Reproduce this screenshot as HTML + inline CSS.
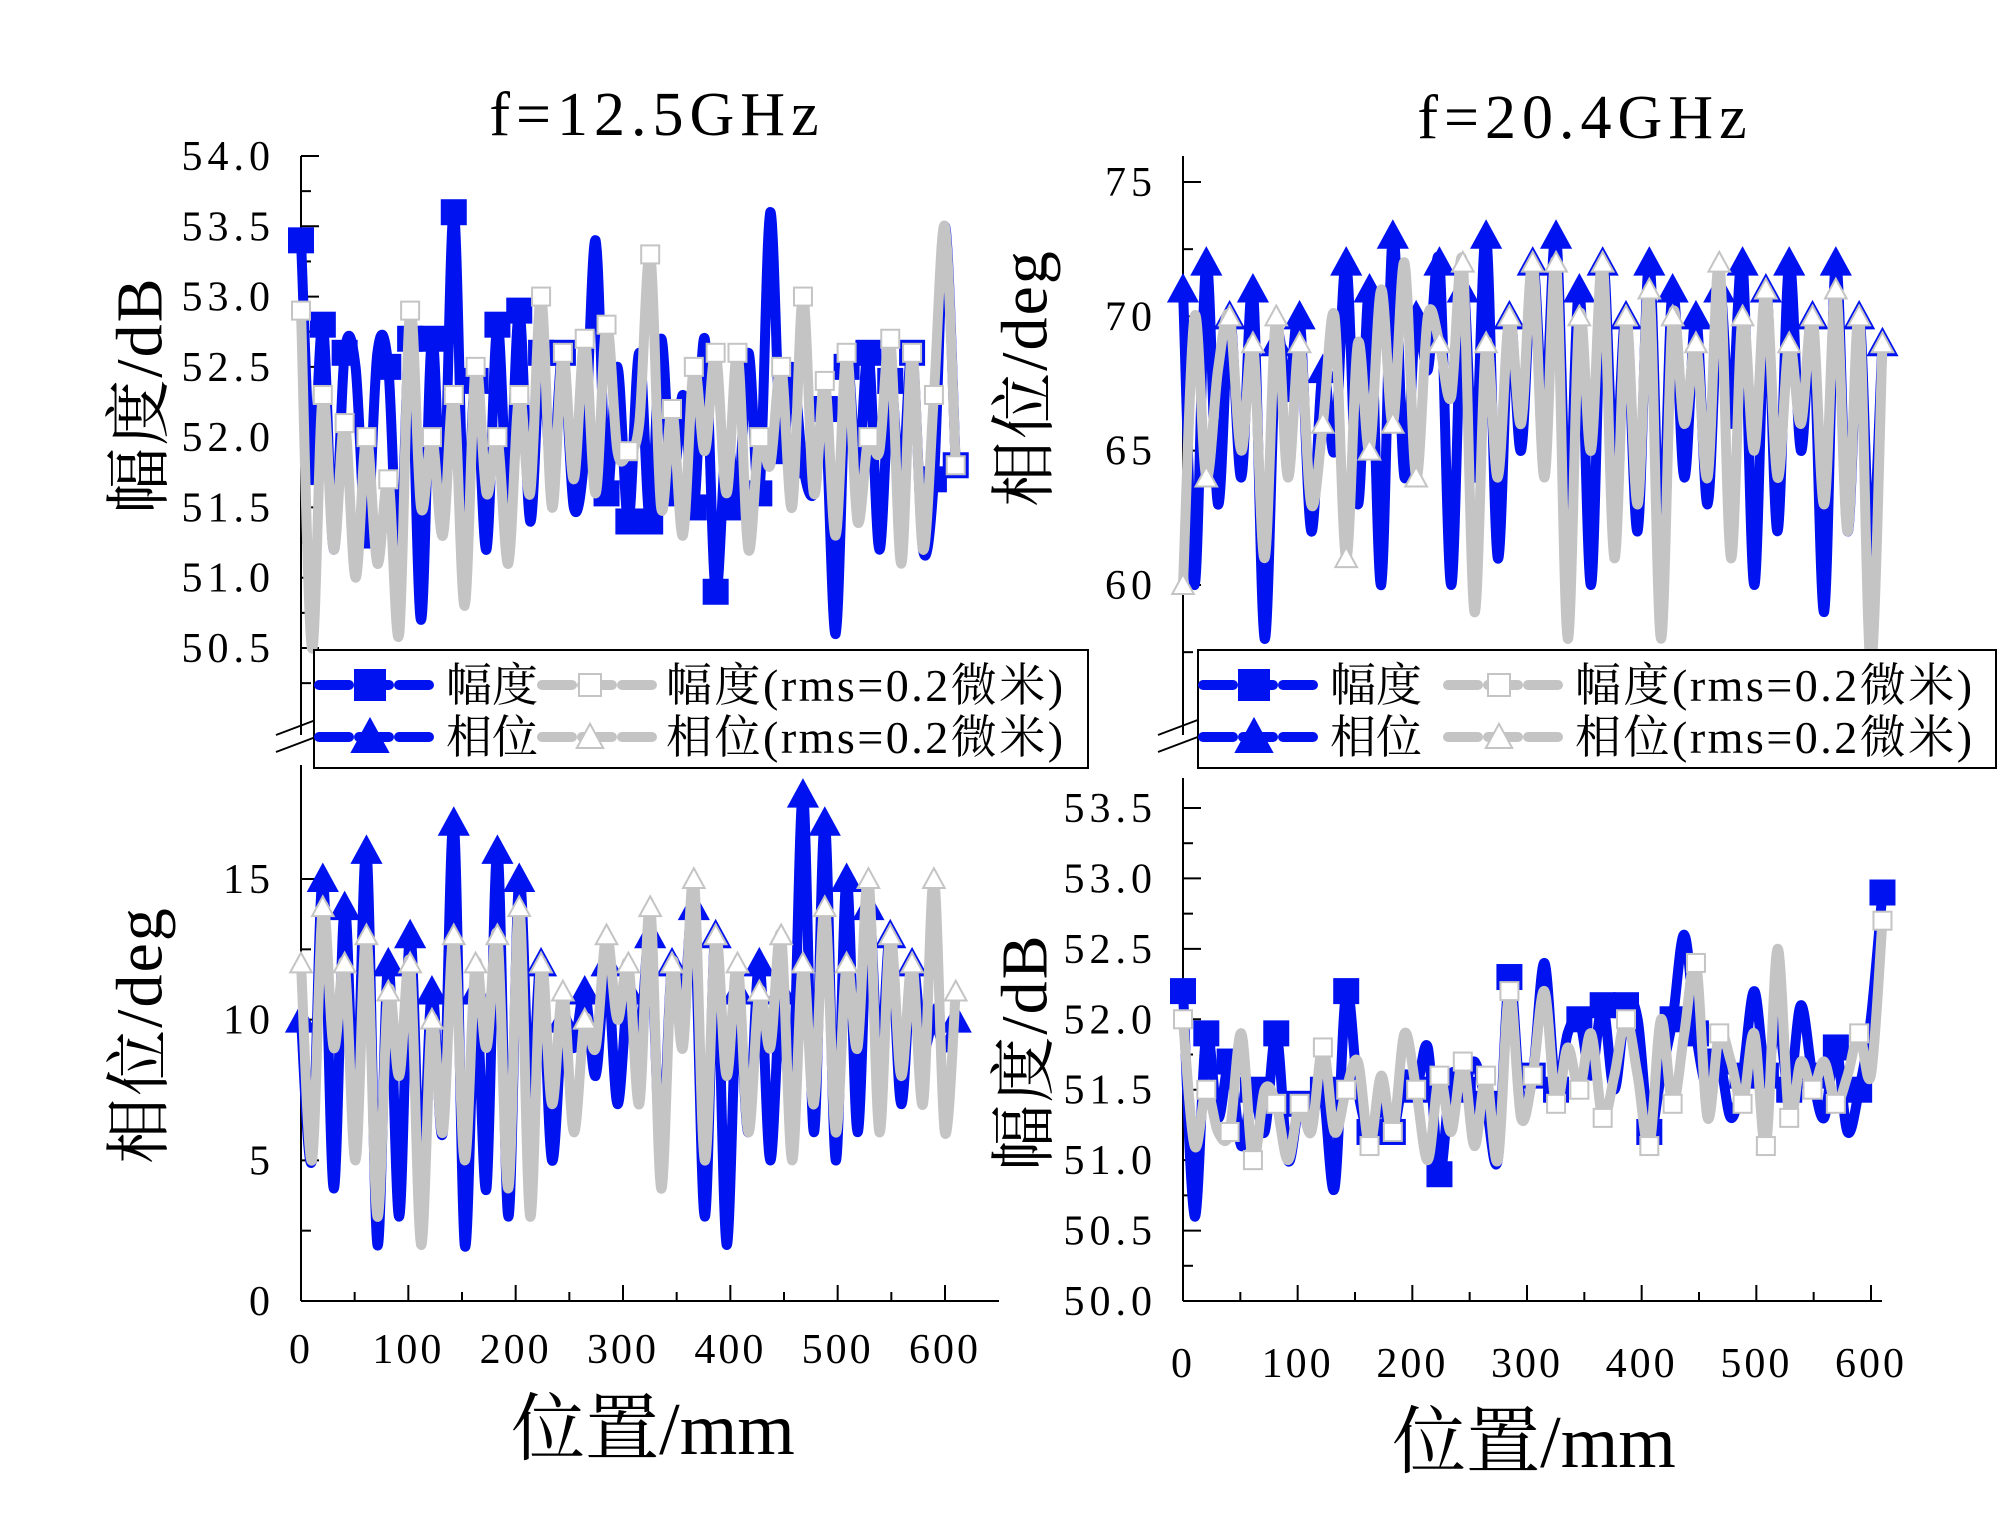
<!DOCTYPE html>
<html><head><meta charset="utf-8"><style>
html,body{margin:0;padding:0;background:#fff;}
svg{display:block;}
text{font-family:"Liberation Serif","Noto Serif CJK SC",serif;fill:#000;}
</style></head><body>
<svg id="chart" width="2000" height="1531" viewBox="0 0 2000 1531" xmlns="http://www.w3.org/2000/svg">
<g id="root"></g>
</svg>
<script>
const tlAmpBlue=[53.4,51.7,52.8,51.2,52.6,52.5,51.3,52.6,52.5,51.0,52.7,50.7,52.7,51.4,53.6,51.3,52.4,51.2,52.8,51.5,52.9,51.4,52.6,51.7,52.6,51.5,51.9,53.4,51.6,52.5,51.4,52.6,51.4,52.7,51.6,52.3,51.5,52.7,50.9,52.0,51.5,52.6,51.6,53.6,51.9,52.5,51.8,51.6,52.2,50.6,52.5,51.7,52.6,51.2,52.4,51.6,52.6,51.2,51.7,53.5,51.8];
const tlAmpGray=[52.9,50.5,52.3,51.2,52.1,51.0,52.0,51.1,51.7,50.6,52.9,51.5,52.0,51.3,52.3,50.8,52.5,51.6,52.0,51.1,52.3,51.6,53.0,51.5,52.6,51.7,52.7,51.6,52.8,51.9,51.9,52.1,53.3,51.5,52.2,51.3,52.5,51.9,52.6,51.6,52.6,51.2,52.0,51.8,52.5,51.5,53.0,51.6,52.4,51.3,52.6,51.4,52.0,51.9,52.7,51.1,52.6,51.2,52.3,53.5,51.8];
const blPhBlue=[10,5,15,4,14,6,16,2,12,3,13,4,11,6,17,2,11,4,16,3,15,7,12,5,10,9,11,8,12,7,11,9,13,5,12,10,14,3,13,2,11,6,12,5,11,7,18,6,17,5,15,6,14,8,13,7,12,9,10,9,10];
const blPhGray=[12,5,14,9,12,5,13,3,11,8,12,2,10,6,13,5,12,9,13,4,14,3,12,7,11,6,10,9,13,10,12,7,14,4,12,9,15,5,13,8,12,6,11,9,13,5,12,7,14,6,12,9,15,6,13,8,12,7,15,6,11];
const trPhBlue=[71,60,72,63,70,64,71,58,69,67,70,62,68,65,72,63,71,60,73,64,70,68,72,60,71,64,73,61,70,65,72,66,73,62,71,60,72,64,70,62,72,61,71,64,70,63,71,66,72,60,71,62,72,65,70,59,72,62,70,61,69];
const trPhGray=[60,70,64,68,70,65,69,61,70,64,69,63,66,70,61,69,65,71,66,72,64,70,69,67,72,59,69,64,70,66,72,64,72,58,70,65,72,61,70,63,71,58,70,66,69,64,72,61,70,65,71,64,69,66,70,63,71,62,70,57,69];
const brAmpBlue=[52.2,50.6,51.9,51.3,51.7,51.1,51.5,51.2,51.9,51.0,51.4,51.3,51.5,50.8,52.2,51.5,51.2,51.4,51.2,51.6,51.5,51.8,50.9,51.6,51.5,51.7,51.4,51.0,52.3,51.4,51.6,52.4,51.5,51.9,52.0,51.6,52.1,51.5,52.1,52.0,51.2,51.6,52.0,52.6,51.9,51.5,51.7,51.3,51.6,52.2,51.6,52.0,51.5,52.1,51.6,51.3,51.8,51.2,51.5,52.0,52.9];
const brAmpGray=[52.0,51.1,51.5,51.2,51.2,51.9,51.0,51.5,51.4,51.0,51.4,51.2,51.8,51.2,51.5,51.7,51.1,51.6,51.2,51.9,51.5,51.0,51.6,51.2,51.7,51.1,51.6,51.0,52.2,51.3,51.6,52.2,51.4,51.8,51.5,51.9,51.3,51.6,52.0,51.6,51.1,52.0,51.4,51.9,52.4,51.3,51.9,51.7,51.4,51.9,51.1,52.5,51.3,51.7,51.5,51.7,51.4,51.6,51.9,51.6,52.7];
const xTicks=[0,100,200,300,400,500,600];
const tlYTicks=[54.0,53.5,53.0,52.5,52.0,51.5,51.0,50.5];
const blYTicks=[15,10,5,0];
const trYTicks=[75,70,65,60];
const brYTicks=[53.5,53.0,52.5,52.0,51.5,51.0,50.5,50.0];

const NS="http://www.w3.org/2000/svg";
const root=document.getElementById('root');
function mk(tag,attrs,parent){const e=document.createElementNS(NS,tag);for(const k in attrs)e.setAttribute(k,attrs[k]);(parent||root).appendChild(e);return e;}
function lin(d0,d1,r0,r1){return v=>r0+(v-d0)*(r1-r0)/(d1-d0);}
function smooth(pts){let d=`M${pts[0][0]},${pts[0][1]}`;for(let i=0;i<pts.length-1;i++){const p0=pts[Math.max(0,i-1)],p1=pts[i],p2=pts[i+1],p3=pts[Math.min(pts.length-1,i+2)];const c1x=p1[0]+(p2[0]-p0[0])/6,c1y=p1[1]+(p2[1]-p0[1])/6,c2x=p2[0]-(p3[0]-p1[0])/6,c2y=p2[1]-(p3[1]-p1[1])/6;d+=` C${c1x},${c1y} ${c2x},${c2y} ${p2[0]},${p2[1]}`;}return d;}

function panel(cfg){
  const g=mk('g',{});
  
  
  const X=lin(0,600,cfg.x0,cfg.x600), Y=lin(cfg.yv0,cfg.yv1,cfg.yp0,cfg.yp1);
  const ya=mk('line',{x1:cfg.x0,y1:cfg.axTop,x2:cfg.x0,y2:cfg.axBot,stroke:'#000','stroke-width':2},g);
  
  
  cfg.yTicks.forEach((t,i)=>{
    const y=Y(t);
    mk('line',{x1:cfg.x0,y1:y,x2:cfg.x0+18,y2:y,stroke:'#000','stroke-width':2},g);
    const ym=Y(t-cfg.minor);
    if(ym<=cfg.axBot+1 && ym>=cfg.axTop) mk('line',{x1:cfg.x0,y1:ym,x2:cfg.x0+10,y2:ym,stroke:'#000','stroke-width':2},g);
    const tx=mk('text',{x:cfg.x0-26,y:y+14,'font-size':42,'text-anchor':'end','letter-spacing':5},g);
    tx.textContent=cfg.fmt(t);
    
    
  });
  if(cfg.xaxis){
    const xa=mk('line',{x1:cfg.x0,y1:cfg.axBot,x2:cfg.axRight,y2:cfg.axBot,stroke:'#000','stroke-width':2},g);
    
    
    xTicks.forEach(t=>{
      const x=X(t);
      mk('line',{x1:x,y1:cfg.axBot,x2:x,y2:cfg.axBot-16,stroke:'#000','stroke-width':2},g);
      if(t<600) mk('line',{x1:X(t+50),y1:cfg.axBot,x2:X(t+50),y2:cfg.axBot-9,stroke:'#000','stroke-width':2},g);
      const tx=mk('text',{x:x,y:cfg.axBot+cfg.xlabOff,'font-size':42,'text-anchor':'middle','letter-spacing':3},g);
      tx.textContent=t;
      
      
    });
  }
  const series=[[cfg.blue,'#0012f0',cfg.marker,true],[cfg.gray,'#c4c4c4',cfg.marker,false]];
  series.forEach(([arr,col,mkType,fill])=>{
    const pts=arr.map((v,i)=>[X(i*610/(arr.length-1)),Y(v)]);
    const p=mk('path',{d:smooth(pts),fill:'none',stroke:col,'stroke-width':10,'stroke-linejoin':'round'},g);
    
    
    pts.forEach((pt,i)=>{
      if(i%2!==0 && i!==pts.length-1)return;
      const m=marker(g,mkType,pt[0],pt[1],fill?24:18,fill?col:'#fff',fill?col:'#c4c4c4');
      
      
    });
  });
}
function marker(g,type,x,y,s,fillc,strk){
  if(type==='sq') return mk('rect',{x:x-s/2,y:y-s/2,width:s,height:s,fill:fillc,stroke:strk,'stroke-width':2},g);
  return mk('polygon',{points:`${x},${y-s*0.6} ${x+s*0.6},${y+s*0.5} ${x-s*0.6},${y+s*0.5}`,fill:fillc,stroke:strk,'stroke-width':2},g);
}
const f1=v=>v.toFixed(1), f0=v=>String(v);
panel({name:'top-left-amplitude',x0:301,x600:945,yv0:54,yv1:50.5,yp0:156,yp1:648,axTop:156,axBot:735,yTicks:tlYTicks,minor:0.25,fmt:f1,blue:tlAmpBlue,gray:tlAmpGray,marker:'sq',xaxis:false});
panel({name:'bottom-left-phase',x0:301,x600:945,yv0:0,yv1:15,yp0:1301,yp1:879,axTop:765,axBot:1301,axRight:999,yTicks:blYTicks,minor:2.5,fmt:f0,blue:blPhBlue,gray:blPhGray,marker:'tri',xaxis:true,xlabOff:62});
panel({name:'top-right-phase',x0:1183,x600:1871,yv0:75,yv1:60,yp0:182,yp1:585,axTop:156,axBot:735,yTicks:trYTicks,minor:2.5,fmt:f0,blue:trPhBlue,gray:trPhGray,marker:'tri',xaxis:false});
panel({name:'bottom-right-amplitude',x0:1183,x600:1871,yv0:50,yv1:53.5,yp0:1301,yp1:808,axTop:778,axBot:1301,axRight:1882,yTicks:brYTicks,minor:0.25,fmt:f1,blue:brAmpBlue,gray:brAmpGray,marker:'sq',xaxis:true,xlabOff:76});

[301,1183].forEach(x=>{
  const b=mk('g',{});
  
  
  mk('line',{x1:x-25,y1:735,x2:x+20,y2:718,stroke:'#000','stroke-width':2},b);
  mk('line',{x1:x-25,y1:752,x2:x+20,y2:735,stroke:'#000','stroke-width':2},b);
});

function legend(name,bx,bw,s1,m1,t1,s2,m2,t2){
  const g=mk('g',{});
  
  
  mk('rect',{x:bx,y:650,width:bw,height:118,fill:'#fff',stroke:'#000','stroke-width':2},g);
  [['sq',685,'幅度'],['tri',737,'相位']].forEach(([t,y,lab])=>{
    mk('line',{x1:s1,y1:y,x2:s1+115,y2:y,stroke:'#0012f0','stroke-width':10,'stroke-dasharray':'30 10','stroke-linecap':'round'},g);
    marker(g,t,m1,y,30,'#0012f0','#0012f0');
    const a=mk('text',{x:t1,y:y+16,'font-size':46},g);a.textContent=lab;
    
    
    mk('line',{x1:s2,y1:y,x2:s2+112,y2:y,stroke:'#c4c4c4','stroke-width':10,'stroke-dasharray':'30 10','stroke-linecap':'round'},g);
    marker(g,t,m2,y,22,'#fff','#c4c4c4');
    const b=mk('text',{x:t2,y:y+16,'font-size':46,'letter-spacing':2.5},g);b.textContent=lab+'(rms=0.2微米)';
    
    
  });
}
legend('legend-left',314,774,319,370,446,542,590,666);
legend('legend-right',1198,798,1203,1254,1330,1448,1499,1575);

const svg=document.getElementById('chart');
function t(txt,x,y,rot,size,name,ls){const e=document.createElementNS(NS,'text');e.setAttribute('x',x);e.setAttribute('y',y);e.setAttribute('font-size',size);e.setAttribute('text-anchor','middle');e.setAttribute('dominant-baseline','central');if(ls)e.setAttribute('letter-spacing',ls);if(rot)e.setAttribute('transform',`rotate(-90 ${x} ${y})`);e.textContent=txt;


svg.appendChild(e);}
t('f=12.5GHz',657,115,false,62,'title-left',6);
t('f=20.4GHz',1585,118,false,62,'title-right',6);
t('幅度/dB',140,395,true,66,'y-axis-title-amplitude-left',2);
t('相位/deg',140,1035,true,66,'y-axis-title-phase-left',2);
t('相位/deg',1025,378,true,66,'y-axis-title-phase-right',2);
t('幅度/dB',1025,1052,true,66,'y-axis-title-amplitude-right',2);
t('位置/mm',653,1430,false,74,'x-axis-title-left');
t('位置/mm',1534,1443,false,74,'x-axis-title-right');
</script>
</body></html>
